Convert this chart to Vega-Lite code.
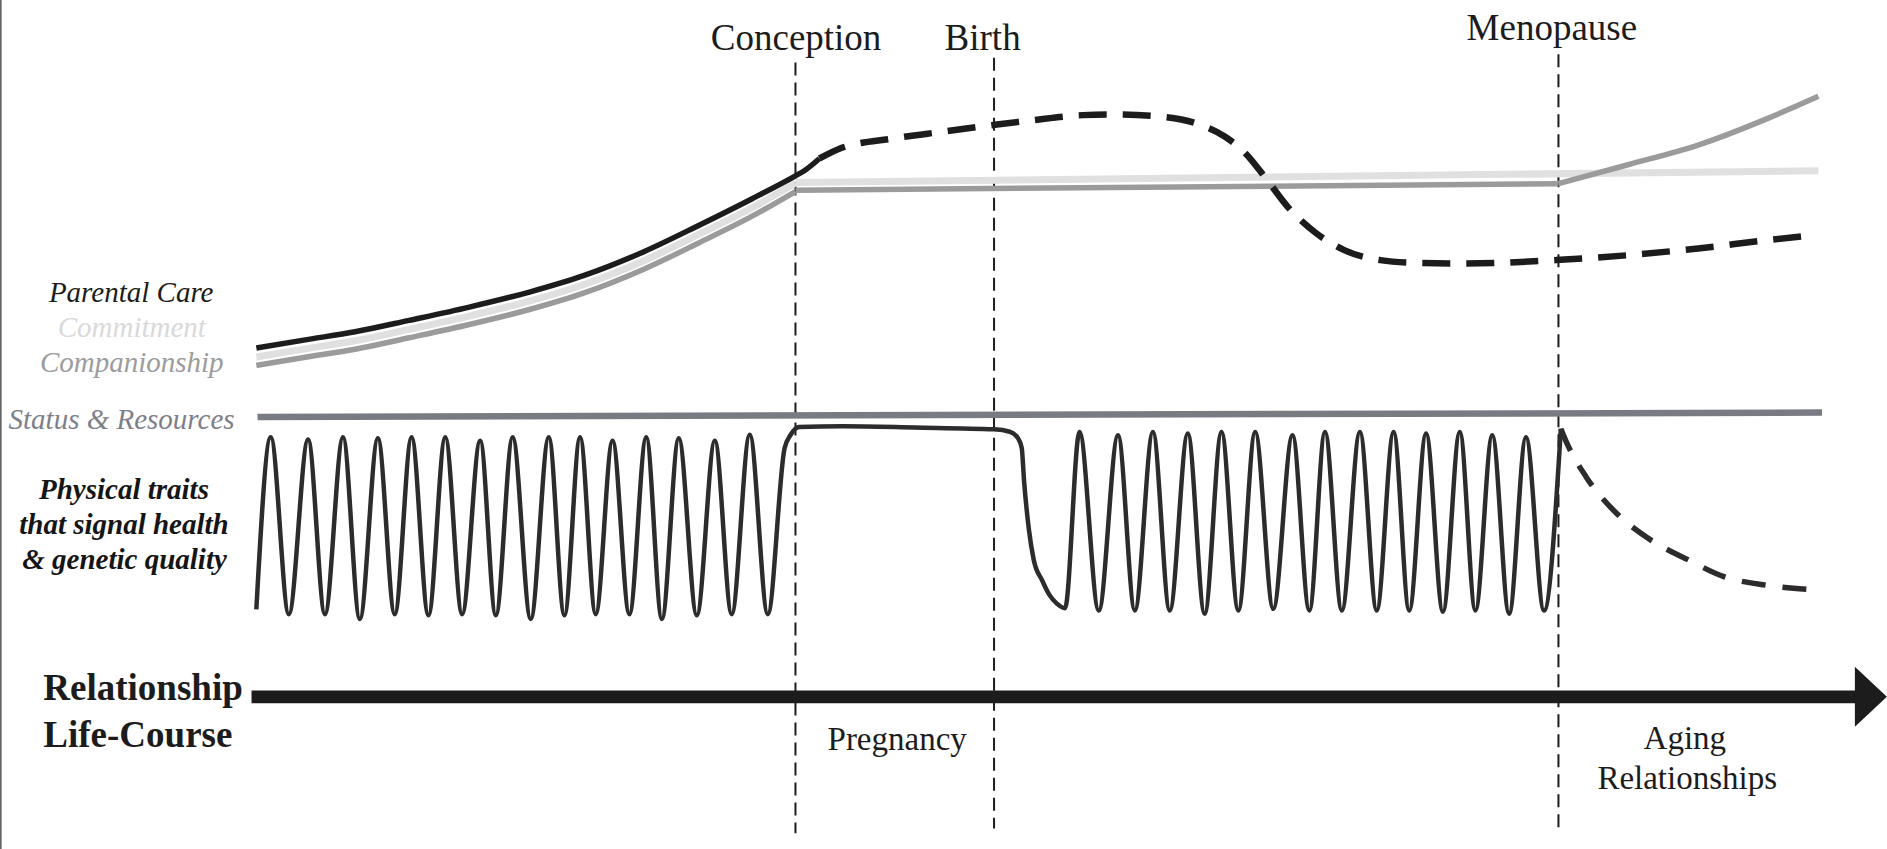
{
  "$schema": "https://vega.github.io/schema/vega-lite/v6.json",
  "width": 1887,
  "height": 849,
  "autosize": {"type": "none"},
  "padding": 0,
  "background": "white",
  "config": {"view": {"stroke": null}},
  "datasets": {
    "curves": [
      {"s":"pc","o":1,"x":213,"y":289},{"s":"pc","o":2,"x":255,"y":282},{"s":"pc","o":3,"x":295,"y":275.5},{"s":"pc","o":4,"x":340,"y":266},{"s":"pc","o":5,"x":390,"y":255},{"s":"pc","o":6,"x":440,"y":242.5},{"s":"pc","o":7,"x":486,"y":228.5},{"s":"pc","o":8,"x":535,"y":209},{"s":"pc","o":9,"x":581,"y":187},{"s":"pc","o":10,"x":625,"y":165},{"s":"pc","o":11,"x":661,"y":146},{"s":"pc","o":12,"x":668,"y":142},{"s":"pc","o":13,"x":681,"y":131.6},
      {"s":"pcd","o":1,"x":681,"y":131.6},{"s":"pcd","o":2,"x":698,"y":123.3},{"s":"pcd","o":3,"x":742,"y":115},{"s":"pcd","o":4,"x":783,"y":109.4},{"s":"pcd","o":5,"x":824,"y":104},{"s":"pcd","o":6,"x":859,"y":99.7},{"s":"pcd","o":7,"x":900,"y":95.6},{"s":"pcd","o":8,"x":924,"y":95},{"s":"pcd","o":9,"x":959,"y":96.4},{"s":"pcd","o":10,"x":994,"y":102.5},{"s":"pcd","o":11,"x":1018,"y":113.6},{"s":"pcd","o":12,"x":1035,"y":127.4},{"s":"pcd","o":13,"x":1053,"y":149.6},{"s":"pcd","o":14,"x":1070,"y":171.7},{"s":"pcd","o":15,"x":1094,"y":193.9},{"s":"pcd","o":16,"x":1117,"y":207.7},{"s":"pcd","o":17,"x":1147,"y":216},{"s":"pcd","o":18,"x":1176,"y":218.3},{"s":"pcd","o":19,"x":1211,"y":218.8},{"s":"pcd","o":20,"x":1252,"y":218},{"s":"pcd","o":21,"x":1293,"y":216},{"s":"pcd","o":22,"x":1352,"y":212},{"s":"pcd","o":23,"x":1411,"y":206.3},{"s":"pcd","o":24,"x":1469,"y":199.4},{"s":"pcd","o":25,"x":1508,"y":195.3},
      {"s":"cmc","o":1,"x":213,"y":296.5},{"s":"cmc","o":2,"x":255,"y":289.5},{"s":"cmc","o":3,"x":295,"y":283},{"s":"cmc","o":4,"x":340,"y":273.5},{"s":"cmc","o":5,"x":390,"y":262.5},{"s":"cmc","o":6,"x":440,"y":250},{"s":"cmc","o":7,"x":486,"y":236},{"s":"cmc","o":8,"x":535,"y":216.5},{"s":"cmc","o":9,"x":581,"y":194.5},{"s":"cmc","o":10,"x":625,"y":172.5},{"s":"cmc","o":11,"x":661,"y":152},
      {"s":"cmf","o":1,"x":661,"y":151.5},{"s":"cmf","o":2,"x":1511,"y":141.8},
      {"s":"cpc","o":1,"x":213,"y":303.5},{"s":"cpc","o":2,"x":255,"y":296.5},{"s":"cpc","o":3,"x":295,"y":290},{"s":"cpc","o":4,"x":340,"y":280.5},{"s":"cpc","o":5,"x":390,"y":269.5},{"s":"cpc","o":6,"x":440,"y":257},{"s":"cpc","o":7,"x":486,"y":243},{"s":"cpc","o":8,"x":535,"y":223.5},{"s":"cpc","o":9,"x":581,"y":201.5},{"s":"cpc","o":10,"x":625,"y":179.5},{"s":"cpc","o":11,"x":661,"y":159},
      {"s":"cpf","o":1,"x":661,"y":158},{"s":"cpf","o":2,"x":1295,"y":152.5},
      {"s":"cpr","o":1,"x":1295,"y":152.5},{"s":"cpr","o":2,"x":1352,"y":137},{"s":"cpr","o":3,"x":1411,"y":120.5},{"s":"cpr","o":4,"x":1469,"y":98.3},{"s":"cpr","o":5,"x":1511,"y":80},
      {"s":"sr","o":1,"x":214,"y":346.2},{"s":"sr","o":2,"x":1514,"y":342.6},
      {"s":"ph","o":1,"x":213,"y":506},{"s":"ph","o":2,"x":225,"y":363},{"s":"ph","o":3,"x":240,"y":510},{"s":"ph","o":4,"x":256,"y":365},{"s":"ph","o":5,"x":270,"y":510},{"s":"ph","o":6,"x":285,"y":363},{"s":"ph","o":7,"x":299,"y":514},{"s":"ph","o":8,"x":314,"y":364},{"s":"ph","o":9,"x":328,"y":510},{"s":"ph","o":10,"x":342,"y":363},{"s":"ph","o":11,"x":356,"y":511},{"s":"ph","o":12,"x":370,"y":363},{"s":"ph","o":13,"x":384,"y":510},{"s":"ph","o":14,"x":399,"y":366},{"s":"ph","o":15,"x":412,"y":511},{"s":"ph","o":16,"x":426,"y":363},{"s":"ph","o":17,"x":441,"y":514},{"s":"ph","o":18,"x":456,"y":363},{"s":"ph","o":19,"x":469,"y":511},{"s":"ph","o":20,"x":482,"y":363},{"s":"ph","o":21,"x":495,"y":510},{"s":"ph","o":22,"x":509,"y":366},{"s":"ph","o":23,"x":523,"y":510},{"s":"ph","o":24,"x":537,"y":363},{"s":"ph","o":25,"x":550,"y":514},{"s":"ph","o":26,"x":564,"y":364},{"s":"ph","o":27,"x":579,"y":511},{"s":"ph","o":28,"x":594,"y":366},{"s":"ph","o":29,"x":608,"y":510},{"s":"ph","o":30,"x":623,"y":361},{"s":"ph","o":31,"x":638,"y":510},{"s":"ph","o":32,"x":652,"y":372},{"s":"ph","o":33,"x":657,"y":361},{"s":"ph","o":34,"x":664,"y":354.5},{"s":"ph","o":35,"x":700,"y":354},{"s":"ph","o":36,"x":760,"y":355},{"s":"ph","o":37,"x":826,"y":356.5},{"s":"ph","o":38,"x":839,"y":358.5},{"s":"ph","o":39,"x":846,"y":364},{"s":"ph","o":40,"x":849,"y":372},{"s":"ph","o":41,"x":851,"y":400},{"s":"ph","o":42,"x":855,"y":440},{"s":"ph","o":43,"x":859,"y":465},{"s":"ph","o":44,"x":866,"y":482},{"s":"ph","o":45,"x":872,"y":494},{"s":"ph","o":46,"x":878,"y":501},{"s":"ph","o":47,"x":885,"y":505},{"s":"ph","o":48,"x":897,"y":358.7},{"s":"ph","o":49,"x":913,"y":507},{"s":"ph","o":50,"x":929,"y":361.5},{"s":"ph","o":51,"x":943,"y":507},{"s":"ph","o":52,"x":958,"y":358.7},{"s":"ph","o":53,"x":972,"y":507},{"s":"ph","o":54,"x":987,"y":360},{"s":"ph","o":55,"x":1001,"y":509.6},{"s":"ph","o":56,"x":1015,"y":358.7},{"s":"ph","o":57,"x":1029,"y":507},{"s":"ph","o":58,"x":1043,"y":358.7},{"s":"ph","o":59,"x":1058,"y":505.6},{"s":"ph","o":60,"x":1074,"y":361.5},{"s":"ph","o":61,"x":1088,"y":507},{"s":"ph","o":62,"x":1101,"y":358.7},{"s":"ph","o":63,"x":1115,"y":507},{"s":"ph","o":64,"x":1130,"y":358.7},{"s":"ph","o":65,"x":1144,"y":507},{"s":"ph","o":66,"x":1158,"y":358.7},{"s":"ph","o":67,"x":1171,"y":507},{"s":"ph","o":68,"x":1185,"y":360},{"s":"ph","o":69,"x":1199,"y":508},{"s":"ph","o":70,"x":1213,"y":358.7},{"s":"ph","o":71,"x":1226,"y":507},{"s":"ph","o":72,"x":1240,"y":361.5},{"s":"ph","o":73,"x":1254,"y":509.6},{"s":"ph","o":74,"x":1268,"y":363},{"s":"ph","o":75,"x":1283,"y":507},{"s":"ph","o":76,"x":1297,"y":356},
      {"s":"phd","o":1,"x":1297,"y":356},{"s":"phd","o":2,"x":1302,"y":368},{"s":"phd","o":3,"x":1318,"y":396},{"s":"phd","o":4,"x":1343,"y":426},{"s":"phd","o":5,"x":1368,"y":446},{"s":"phd","o":6,"x":1403,"y":465},{"s":"phd","o":7,"x":1433,"y":479},{"s":"phd","o":8,"x":1468,"y":486},{"s":"phd","o":9,"x":1510,"y":490}
    ],
    "vrules": [
      {"k":"event","x":661,"y":52,"y2":692},
      {"k":"event","x":826,"y":48,"y2":688},
      {"k":"event","x":1295,"y":45,"y2":688},
      {"k":"border","x":0.7,"y":0,"y2":705}
    ],
    "hrules": [
      {"x":209,"x2":1546,"y":578.6}
    ],
    "heads": [
      {"x":1554.6,"y":578.6}
    ],
    "labels": [
      {"t":"Conception","g":"ev","x":661.5,"y":41.5},
      {"t":"Birth","g":"ev","x":816.5,"y":41.5},
      {"t":"Menopause","g":"ev","x":1289.5,"y":33},
      {"t":"Parental Care","g":"pc","x":109,"y":250.7},
      {"t":"Commitment","g":"cm","x":109.5,"y":279.8},
      {"t":"Companionship","g":"cp","x":109.5,"y":308.8},
      {"t":"Status & Resources","g":"sr","x":101,"y":356},
      {"t":"Physical traits","g":"pt","x":103,"y":414},
      {"t":"that signal health","g":"pt","x":103,"y":443.7},
      {"t":"& genetic quality","g":"pt","x":103.5,"y":472.2},
      {"t":"Relationship","g":"rl","x":36,"y":581.6},
      {"t":"Life-Course","g":"rl","x":36,"y":620},
      {"t":"Pregnancy","g":"ph","x":745.5,"y":623},
      {"t":"Aging","g":"ph","x":1400,"y":622},
      {"t":"Relationships","g":"ph","x":1402,"y":655}
    ]
  },
  "encoding": {
    "x": {"field": "x", "type": "quantitative", "scale": {"domain": [0, 1568], "nice": false, "zero": false}, "axis": null},
    "y": {"field": "y", "type": "quantitative", "scale": {"domain": [0, 705], "reverse": true, "nice": false, "zero": false}, "axis": null}
  },
  "layer": [
    {
      "data": {"name": "vrules"},
      "transform": [{"filter": "datum.k === 'event'"}],
      "mark": {"type": "rule", "color": "#1c1c1c", "strokeWidth": 2, "strokeDash": [13, 7]},
      "encoding": {"y2": {"field": "y2"}}
    },
    {
      "data": {"name": "vrules"},
      "transform": [{"filter": "datum.k === 'border'"}],
      "mark": {"type": "rule", "color": "#555555", "strokeWidth": 1.5},
      "encoding": {"y2": {"field": "y2"}}
    },
    {
      "data": {"name": "curves"},
      "transform": [{"filter": "datum.s === 'cmc'"}],
      "mark": {"type": "line", "interpolate": "monotone", "color": "#dfe0df", "strokeWidth": 7},
      "encoding": {"order": {"field": "o", "type": "quantitative"}}
    },
    {
      "data": {"name": "curves"},
      "transform": [{"filter": "datum.s === 'cmf'"}],
      "mark": {"type": "line", "color": "#dfe0df", "strokeWidth": 7},
      "encoding": {"order": {"field": "o", "type": "quantitative"}}
    },
    {
      "data": {"name": "curves"},
      "transform": [{"filter": "datum.s === 'cpc'"}],
      "mark": {"type": "line", "interpolate": "monotone", "color": "#9b9b9b", "strokeWidth": 5.5},
      "encoding": {"order": {"field": "o", "type": "quantitative"}}
    },
    {
      "data": {"name": "curves"},
      "transform": [{"filter": "datum.s === 'cpf'"}],
      "mark": {"type": "line", "color": "#9b9b9b", "strokeWidth": 5.5},
      "encoding": {"order": {"field": "o", "type": "quantitative"}}
    },
    {
      "data": {"name": "curves"},
      "transform": [{"filter": "datum.s === 'cpr'"}],
      "mark": {"type": "line", "interpolate": "monotone", "color": "#9b9b9b", "strokeWidth": 5.5},
      "encoding": {"order": {"field": "o", "type": "quantitative"}}
    },
    {
      "data": {"name": "curves"},
      "transform": [{"filter": "datum.s === 'sr'"}],
      "mark": {"type": "line", "color": "#787b82", "strokeWidth": 6.5},
      "encoding": {"order": {"field": "o", "type": "quantitative"}}
    },
    {
      "data": {"name": "curves"},
      "transform": [{"filter": "datum.s === 'pc'"}],
      "mark": {"type": "line", "interpolate": "monotone", "color": "#1c1c1c", "strokeWidth": 5.5},
      "encoding": {"order": {"field": "o", "type": "quantitative"}}
    },
    {
      "data": {"name": "curves"},
      "transform": [{"filter": "datum.s === 'pcd'"}],
      "mark": {"type": "line", "interpolate": "monotone", "color": "#1c1c1c", "strokeWidth": 6.5, "strokeDash": [28, 16]},
      "encoding": {"order": {"field": "o", "type": "quantitative"}}
    },
    {
      "data": {"name": "curves"},
      "transform": [{"filter": "datum.s === 'ph'"}],
      "mark": {"type": "line", "interpolate": "monotone", "color": "#2d2b2b", "strokeWidth": 4.5},
      "encoding": {"order": {"field": "o", "type": "quantitative"}}
    },
    {
      "data": {"name": "curves"},
      "transform": [{"filter": "datum.s === 'phd'"}],
      "mark": {"type": "line", "interpolate": "monotone", "color": "#2d2b2b", "strokeWidth": 5.5, "strokeDash": [24, 17]},
      "encoding": {"order": {"field": "o", "type": "quantitative"}}
    },
    {
      "data": {"name": "hrules"},
      "mark": {"type": "rule", "color": "#1c1c1c", "strokeWidth": 12.7},
      "encoding": {"x2": {"field": "x2"}}
    },
    {
      "data": {"name": "heads"},
      "mark": {"type": "point", "shape": "M -0.533 -1 L 0.533 0 L -0.533 1 Z", "size": 3600, "filled": true, "color": "#1c1c1c", "opacity": 1, "strokeWidth": 0}
    },
    {
      "data": {"name": "labels"},
      "transform": [{"filter": "datum.g === 'ev'"}],
      "mark": {"type": "text", "font": "Liberation Serif", "fontSize": 37, "color": "#1c1c1c", "align": "center", "baseline": "alphabetic"},
      "encoding": {"text": {"field": "t"}}
    },
    {
      "data": {"name": "labels"},
      "transform": [{"filter": "datum.g === 'pc'"}],
      "mark": {"type": "text", "font": "Liberation Serif", "fontSize": 29, "fontStyle": "italic", "color": "#1c1c1c", "align": "center", "baseline": "alphabetic"},
      "encoding": {"text": {"field": "t"}}
    },
    {
      "data": {"name": "labels"},
      "transform": [{"filter": "datum.g === 'cm'"}],
      "mark": {"type": "text", "font": "Liberation Serif", "fontSize": 29, "fontStyle": "italic", "color": "#d9d9d9", "align": "center", "baseline": "alphabetic"},
      "encoding": {"text": {"field": "t"}}
    },
    {
      "data": {"name": "labels"},
      "transform": [{"filter": "datum.g === 'cp'"}],
      "mark": {"type": "text", "font": "Liberation Serif", "fontSize": 29, "fontStyle": "italic", "color": "#9c9c9c", "align": "center", "baseline": "alphabetic"},
      "encoding": {"text": {"field": "t"}}
    },
    {
      "data": {"name": "labels"},
      "transform": [{"filter": "datum.g === 'sr'"}],
      "mark": {"type": "text", "font": "Liberation Serif", "fontSize": 29, "fontStyle": "italic", "color": "#7d8088", "align": "center", "baseline": "alphabetic"},
      "encoding": {"text": {"field": "t"}}
    },
    {
      "data": {"name": "labels"},
      "transform": [{"filter": "datum.g === 'pt'"}],
      "mark": {"type": "text", "font": "Liberation Serif", "fontSize": 29, "fontStyle": "italic", "fontWeight": "bold", "color": "#151515", "align": "center", "baseline": "alphabetic"},
      "encoding": {"text": {"field": "t"}}
    },
    {
      "data": {"name": "labels"},
      "transform": [{"filter": "datum.g === 'rl'"}],
      "mark": {"type": "text", "font": "Liberation Serif", "fontSize": 37, "fontWeight": "bold", "color": "#1c1c1c", "align": "left", "baseline": "alphabetic"},
      "encoding": {"text": {"field": "t"}}
    },
    {
      "data": {"name": "labels"},
      "transform": [{"filter": "datum.g === 'ph'"}],
      "mark": {"type": "text", "font": "Liberation Serif", "fontSize": 33, "color": "#1c1c1c", "align": "center", "baseline": "alphabetic"},
      "encoding": {"text": {"field": "t"}}
    }
  ]
}
